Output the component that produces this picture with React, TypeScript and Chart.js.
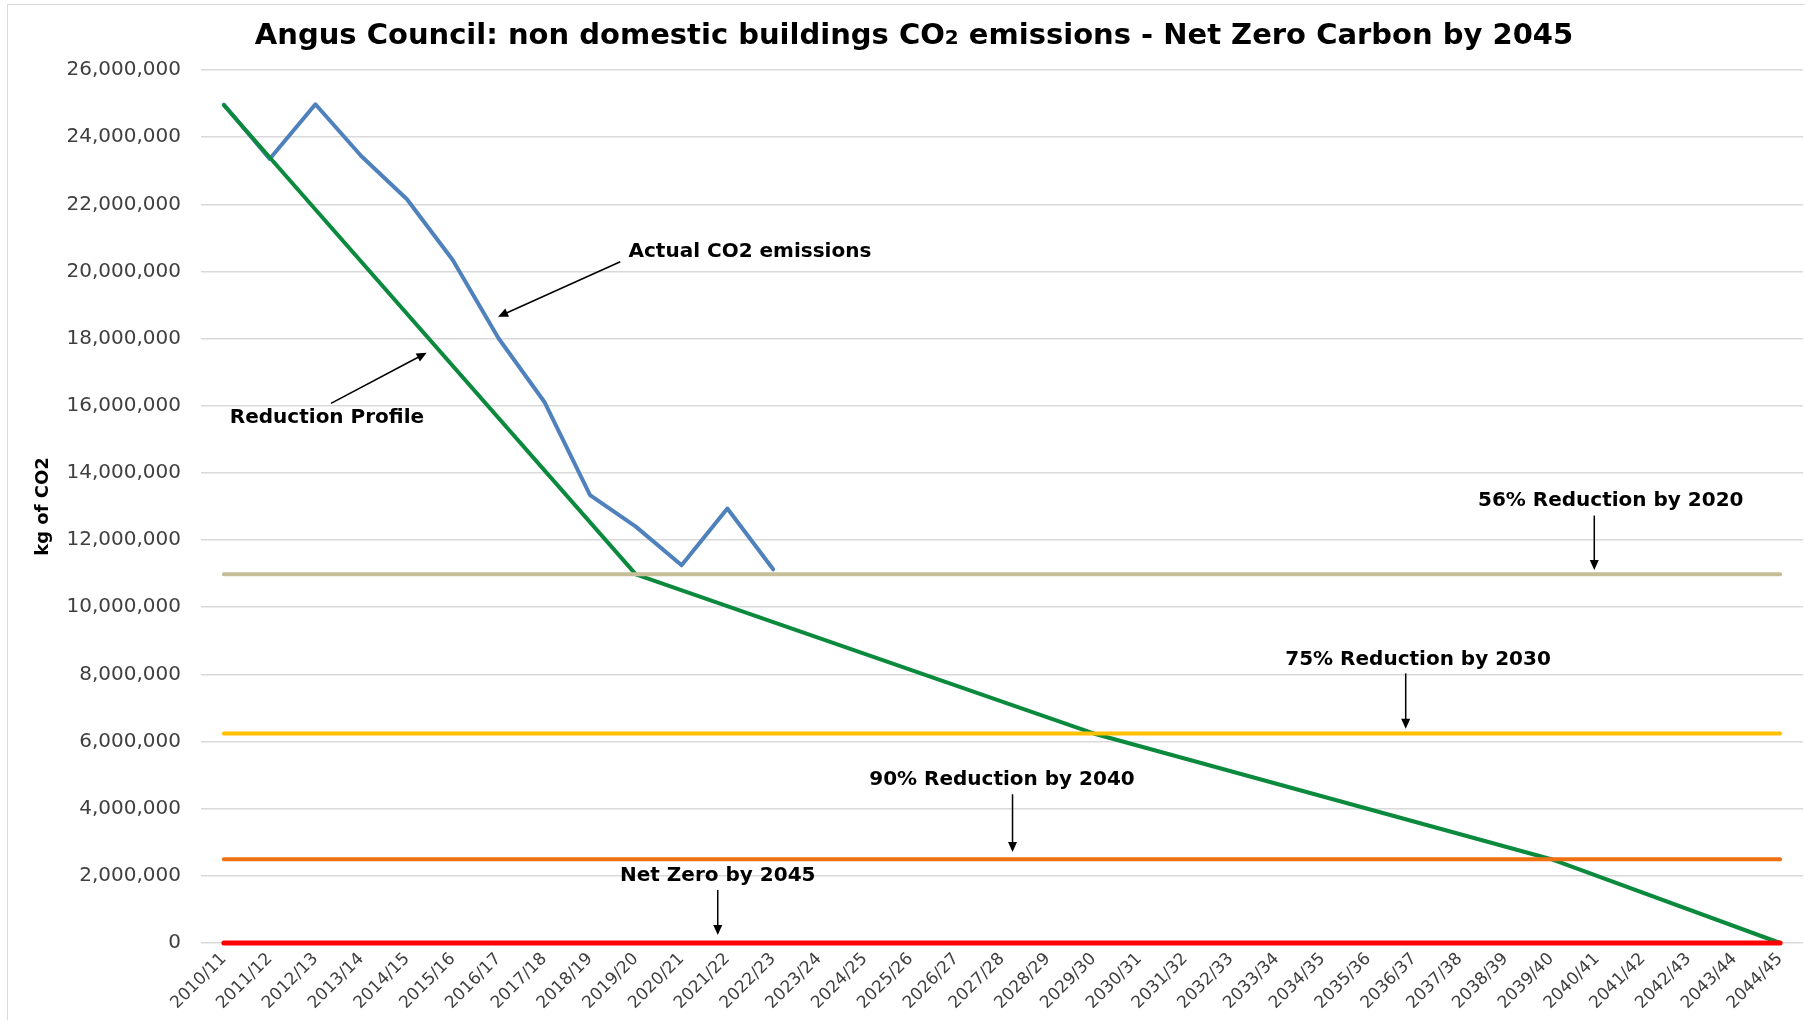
import React, { useEffect, useRef } from "react";
import { Chart, registerables } from "chart.js";

Chart.register(...registerables);

// ---------- DATA ----------
const categories = [
  "2010/11", "2011/12", "2012/13", "2013/14", "2014/15", "2015/16", "2016/17",
  "2017/18", "2018/19", "2019/20", "2020/21", "2021/22", "2022/23", "2023/24",
  "2024/25", "2025/26", "2026/27", "2027/28", "2028/29", "2029/30", "2030/31",
  "2031/32", "2032/33", "2033/34", "2034/35", "2035/36", "2036/37", "2037/38",
  "2038/39", "2039/40", "2040/41", "2041/42", "2042/43", "2043/44", "2044/45",
];

// Actual CO2 emissions (kg), 2010/11 .. 2022/23
const actualEmissions = [
  24970000, 23350000, 24980000, 23440000, 22150000, 20340000, 18010000,
  16120000, 13340000, 12400000, 11250000, 12940000, 11130000,
];

// Reduction profile break points
const profileYears = ["2010/11", "2019/20", "2029/30", "2039/40", "2044/45"];
const profileValues = [24950000, 10980000, 6240000, 2495000, 0];

// Target lines
const targetLabels = [
  "56% Reduction by 2020",
  "75% Reduction by 2030",
  "90% Reduction by 2040",
  "Net Zero by 2045",
];
const targetValues = [10980000, 6240000, 2495000, 0];
const targetColors = ["#C6BE98", "#FFC000", "#EE7010", "#FF0000"];
const targetWidths = [4, 4, 4, 5];

const yTicksMax = 26000000;
const yTicksStep = 2000000;

const titleParts = ["Angus Council: non domestic buildings CO", "2", " emissions - Net Zero Carbon by 2045"];

// Annotation text/arrow placement in data coordinates (category index, value)
const annotations = [
  { text: "Actual CO2 emissions", tx: 8.84, ty: 20600000, align: "left", from: [8.66, 20290000], to: [5.99, 18650000] },
  { text: "Reduction Profile", tx: 0.13, ty: 15630000, align: "left", from: [2.34, 16070000], to: [4.43, 17580000] },
  { text: targetLabels[0], tx: 30.3, ty: 13170000, align: "center", from: [29.94, 12730000], to: [29.94, 11110000] },
  { text: targetLabels[1], tx: 26.09, ty: 8440000, align: "center", from: [25.82, 8030000], to: [25.82, 6380000] },
  { text: targetLabels[2], tx: 17.0, ty: 4870000, align: "center", from: [17.23, 4430000], to: [17.23, 2710000] },
  { text: targetLabels[3], tx: 10.79, ty: 1990000, align: "center", from: [10.79, 1580000], to: [10.79, 240000] },
];

const FONT = "'DejaVu Sans', sans-serif";

const decorPlugin = {
  id: "decor",
  beforeDraw(chart: any) {
    const ctx = chart.ctx;
    ctx.save();
    ctx.strokeStyle = "#D9D9D9";
    ctx.lineWidth = 1;
    ctx.beginPath();
    ctx.moveTo(7.5, 1020);
    ctx.lineTo(7.5, 4.5);
    ctx.lineTo(1805, 4.5);
    ctx.stroke();
    ctx.restore();
  },
  afterDraw(chart: any) {
    const ctx = chart.ctx;
    ctx.save();
    // Title
    const big = `bold 29px ${FONT}`;
    const small = `bold 20px ${FONT}`;
    ctx.font = big;
    const w0 = ctx.measureText(titleParts[0]).width;
    const w2 = ctx.measureText(titleParts[2]).width;
    ctx.font = small;
    const w1 = ctx.measureText(titleParts[1]).width;
    const total = w0 + w1 + w2;
    let x = 914 - total / 2;
    const y = 44;
    ctx.fillStyle = "#000000";
    ctx.textBaseline = "alphabetic";
    ctx.textAlign = "left";
    ctx.font = big;
    ctx.fillText(titleParts[0], x, y);
    x += w0;
    ctx.font = small;
    ctx.fillText(titleParts[1], x, y);
    x += w1;
    ctx.font = big;
    ctx.fillText(titleParts[2], x, y);

    // Annotations
    const xs = chart.scales.x;
    const ys = chart.scales.y;
    ctx.font = `bold 20px ${FONT}`;
    ctx.textBaseline = "middle";
    for (const a of annotations) {
      ctx.textAlign = a.align as CanvasTextAlign;
      ctx.fillStyle = "#000000";
      ctx.fillText(a.text, xs.getPixelForValue(a.tx), ys.getPixelForValue(a.ty));
      const x1 = xs.getPixelForValue(a.from[0]);
      const y1 = ys.getPixelForValue(a.from[1]);
      const x2 = xs.getPixelForValue(a.to[0]);
      const y2 = ys.getPixelForValue(a.to[1]);
      const ang = Math.atan2(y2 - y1, x2 - x1);
      const hl = 10;
      const hw = 4.5;
      ctx.strokeStyle = "#000000";
      ctx.lineWidth = 1.5;
      ctx.beginPath();
      ctx.moveTo(x1, y1);
      ctx.lineTo(x2 - Math.cos(ang) * hl * 0.8, y2 - Math.sin(ang) * hl * 0.8);
      ctx.stroke();
      ctx.beginPath();
      ctx.moveTo(x2, y2);
      ctx.lineTo(x2 - Math.cos(ang) * hl - Math.sin(ang) * hw, y2 - Math.sin(ang) * hl + Math.cos(ang) * hw);
      ctx.lineTo(x2 - Math.cos(ang) * hl + Math.sin(ang) * hw, y2 - Math.sin(ang) * hl - Math.cos(ang) * hw);
      ctx.closePath();
      ctx.fill();
    }
    ctx.restore();
  },
};

export default function App() {
  const canvasRef = useRef<HTMLCanvasElement | null>(null);

  useEffect(() => {
    if (!canvasRef.current) return;
    const first = categories[0];
    const last = categories[categories.length - 1];
    const datasets: any[] = [
      {
        label: "Actual CO2 emissions",
        data: actualEmissions,
        borderColor: "#4F81BD",
        borderWidth: 4,
        pointRadius: 0,
        borderCapStyle: "round",
        borderJoinStyle: "round",
        clip: false,
        order: 2,
      },
      ...targetLabels.map((t, i) => ({
        label: t,
        data: [
          { x: first, y: targetValues[i] },
          { x: last, y: targetValues[i] },
        ],
        borderColor: targetColors[i],
        borderWidth: targetWidths[i],
        pointRadius: 0,
        borderCapStyle: "round",
        clip: false,
        order: 0,
      })),
      {
        label: "Reduction Profile",
        data: profileYears.map((yr, i) => ({ x: yr, y: profileValues[i] })),
        borderColor: "#0B8A3E",
        borderWidth: 4,
        pointRadius: 0,
        borderCapStyle: "round",
        borderJoinStyle: "round",
        clip: false,
        order: 1,
      },
    ];

    const chart = new Chart(canvasRef.current, {
      type: "line",
      data: { labels: categories, datasets },
      options: {
        responsive: false,
        animation: false,
        devicePixelRatio: 1,
        layout: { padding: { left: 8, right: 2, top: 70, bottom: 0 } },
        plugins: {
          legend: { display: false },
          tooltip: { enabled: false },
          title: { display: false },
        },
        scales: {
          x: {
            type: "category",
            offset: true,
            grid: { display: false, drawTicks: false },
            border: { display: false },
            ticks: {
              autoSkip: false,
              maxRotation: 45,
              minRotation: 45,
              color: "#404040",
              padding: 6,
              font: { family: FONT, size: 17 },
            },
            afterFit: (s: any) => {
              s.height = 77;
            },
          },
          y: {
            min: 0,
            max: yTicksMax,
            ticks: {
              stepSize: yTicksStep,
              color: "#404040",
              padding: 20,
              font: { family: FONT, size: 20 },
              callback: (v: any) => Number(v).toLocaleString("en-US"),
            },
            grid: { color: "#D9D9D9", lineWidth: 1.5, drawTicks: false },
            border: { display: false },
            title: {
              display: true,
              text: "kg of CO2",
              color: "#000000",
              font: { family: FONT, size: 18, weight: "bold" },
              padding: { top: 25, bottom: 0 },
            },
            afterFit: (s: any) => {
              s.width = 193;
            },
          },
        },
      },
      plugins: [decorPlugin],
    } as any);
    return () => chart.destroy();
  }, []);

  return (
    <div style={{ position: "absolute", left: 0, top: 0, width: 1805, height: 1020, background: "#ffffff" }}>
      <canvas ref={canvasRef} width={1805} height={1020} style={{ display: "block" }} />
    </div>
  );
}
